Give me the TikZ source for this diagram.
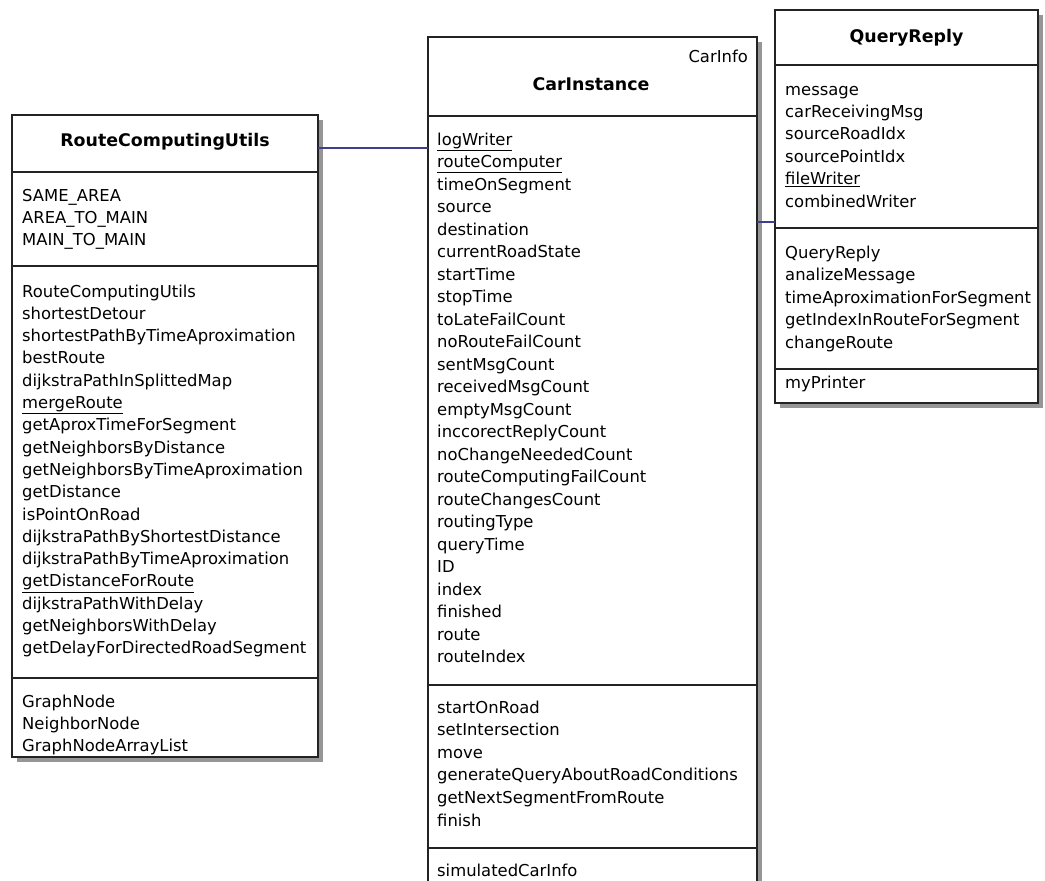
\documentclass[tikz,border=0pt]{standalone}
\usepackage{fontspec}
\setmainfont{DejaVu Sans}
\usetikzlibrary{shadows}
\definecolor{assoc}{RGB}{62,62,140}
\definecolor{umlline}{RGB}{35,35,35}
\definecolor{shade}{RGB}{150,150,150}
\tikzset{
  classbox/.style={draw=umlline, line width=1.3pt, fill=white, rectangle,
    inner sep=0pt, outer sep=0pt,
    drop shadow={shadow xshift=5pt, shadow yshift=-5pt, fill=shade, opacity=1}},
  item/.style={anchor=base west, inner sep=0pt, font=\fontsize{16.4}{20}\selectfont},
  ctitle/.style={anchor=base, inner sep=0pt, font=\fontsize{17.4}{20}\selectfont\bfseries},
  sepline/.style={draw=umlline, line width=1.3pt},
  link/.style={draw=assoc, line width=1.2pt},
}
\begin{document}
\begin{tikzpicture}[x=1pt,y=-1pt]
\fill[white] (0,0) rectangle (1045,881);
\useasboundingbox (0,0) rectangle (1045,881);
\clip (0,0) rectangle (1045,881);

% class boxes
\node[classbox, minimum width=306pt, minimum height=642pt] (rcu) at (165,436) {};
\node[classbox, minimum width=329pt, minimum height=873pt] (ci) at (592.5,473.5) {};
\node[classbox, minimum width=263pt, minimum height=393pt] (qr) at (906.5,206.5) {};

% associations
\coordinate (linkA) at (0,148);
\coordinate (linkB) at (0,222);
\draw[link] (rcu.east |- linkA) -- (ci.west |- linkA);
\draw[link] (ci.east |- linkB) -- (qr.west |- linkB);

% compartment separators
\foreach \y in {172,266,678}
  \draw[sepline] (rcu.west |- 0,\y) -- (rcu.east |- 0,\y);
\foreach \y in {116,685,848}
  \draw[sepline] (ci.west |- 0,\y) -- (ci.east |- 0,\y);
\foreach \y in {65,228,369}
  \draw[sepline] (qr.west |- 0,\y) -- (qr.east |- 0,\y);

% RouteComputingUtils
\node[ctitle] (rcuTitle) at (165,146) {RouteComputingUtils};
\foreach \t [count=\i from 0] in {SAME\_AREA, AREA\_TO\_MAIN, MAIN\_TO\_MAIN}
  \node[item] (rcuA\i) at (22,201+22.4*\i) {\t};
\foreach \t [count=\i from 0] in {RouteComputingUtils, shortestDetour,
    shortestPathByTimeAproximation, bestRoute, dijkstraPathInSplittedMap,
    {\underline{mergeRoute}}, getAproxTimeForSegment, getNeighborsByDistance,
    getNeighborsByTimeAproximation, getDistance, isPointOnRoad,
    dijkstraPathByShortestDistance, dijkstraPathByTimeAproximation,
    {\underline{getDistanceForRoute}}, dijkstraPathWithDelay,
    getNeighborsWithDelay, getDelayForDirectedRoadSegment}
  \node[item] (rcuM\i) at (22,297+22.3*\i) {\t};
\foreach \t [count=\i from 0] in {GraphNode, NeighborNode, GraphNodeArrayList}
  \node[item] (rcuC\i) at (22,707+22.2*\i) {\t};

% CarInstance
\node[item, anchor=base east] (ciStereo) at (748,62) {CarInfo};
\node[ctitle] (ciTitle) at (591,90) {CarInstance};
\foreach \t [count=\i from 0] in {{\underline{logWriter}}, {\underline{routeComputer}},
    timeOnSegment, source, destination, currentRoadState, startTime, stopTime,
    toLateFailCount, noRouteFailCount, sentMsgCount, receivedMsgCount,
    emptyMsgCount, inccorectReplyCount, noChangeNeededCount,
    routeComputingFailCount, routeChangesCount, routingType, queryTime, ID,
    index, finished, route, routeIndex}
  \node[item] (ciA\i) at (437,145+22.5*\i) {\t};
\foreach \t [count=\i from 0] in {startOnRoad, setIntersection, move,
    generateQueryAboutRoadConditions, getNextSegmentFromRoute, finish}
  \node[item] (ciM\i) at (437,713+22.6*\i) {\t};
\node[item] (ciC0) at (437,876) {simulatedCarInfo};

% QueryReply
\node[ctitle] (qrTitle) at (906.5,42) {QueryReply};
\foreach \t [count=\i from 0] in {message, carReceivingMsg, sourceRoadIdx,
    sourcePointIdx, {\underline{fileWriter}}, combinedWriter}
  \node[item] (qrA\i) at (785,95+22.4*\i) {\t};
\foreach \t [count=\i from 0] in {QueryReply, analizeMessage,
    timeAproximationForSegment, getIndexInRouteForSegment, changeRoute}
  \node[item] (qrM\i) at (785,258+22.5*\i) {\t};
\node[item] (qrC0) at (785,388) {myPrinter};
\end{tikzpicture}
\end{document}
